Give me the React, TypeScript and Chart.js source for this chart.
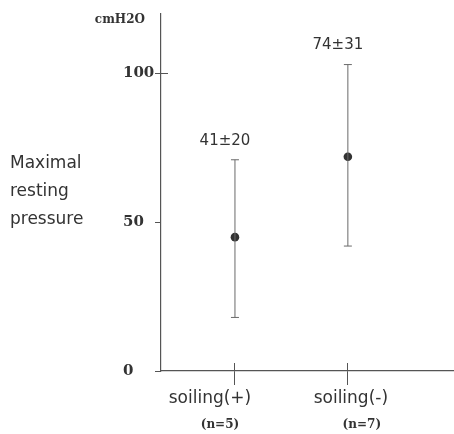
import React, { useEffect, useRef } from "react";
import { Chart, registerables } from "chart.js";

Chart.register(...registerables);

const categories = ["soiling(+)", "soiling(-)"];
const groupSizes = ["(n=5)", "(n=7)"];
const categoryX = [1, 2];
const means = [45, 72];
const upper = [71, 103];
const lower = [18, 42];
const annotations = ["41\u00b120", "74\u00b131"];
const yTicks = [0, 50, 100];
const yUnit = "cmH2O";
const yTitle = ["Maximal", "resting", "pressure"];

const TEXT = "#333";
const AXIS = "#555";
const BAR = "#6a6a6a";

const align = (p: number) => Math.round(p - 0.5) + 0.5;

const textPlugin = {
  id: "customText",
  afterDraw(chart: any) {
    const ctx = chart.ctx;
    const xs = chart.scales.x;
    const ys = chart.scales.y;
    const area = chart.chartArea;
    ctx.save();
    // inner tick extensions
    ctx.strokeStyle = AXIS;
    ctx.lineWidth = 1;
    categoryX.forEach((v) => {
      const px = align(xs.getPixelForValue(v));
      ctx.beginPath();
      ctx.moveTo(px, area.bottom - 8);
      ctx.lineTo(px, area.bottom);
      ctx.stroke();
    });
    const p100 = align(ys.getPixelForValue(yTicks[yTicks.length - 1]));
    ctx.beginPath();
    ctx.moveTo(area.left, p100);
    ctx.lineTo(area.left + 7, p100);
    ctx.stroke();

    ctx.fillStyle = TEXT;
    // unit
    ctx.font = "bold 12px 'DejaVu Serif'";
    ctx.textAlign = "right";
    ctx.textBaseline = "alphabetic";
    ctx.fillText(yUnit, 145, 23);
    // y title
    ctx.font = "17px 'DejaVu Sans'";
    ctx.textAlign = "left";
    yTitle.forEach((t, i) => ctx.fillText(t, 10, 168 + i * 28));
    // category labels
    const catOffsets = [-25, 3];
    const nOffsets = [-15, 14];
    categories.forEach((c, i) => {
      const px = xs.getPixelForValue(categoryX[i]);
      ctx.font = "17px 'DejaVu Sans'";
      ctx.textAlign = "center";
      ctx.fillText(c, px + catOffsets[i], 403);
      ctx.font = "bold 12px 'DejaVu Serif'";
      ctx.fillText(groupSizes[i], px + nOffsets[i], 428);
    });
    // annotations
    ctx.font = "15px 'DejaVu Sans'";
    ctx.textAlign = "center";
    ctx.textBaseline = "middle";
    annotations.forEach((a, i) => {
      const px = xs.getPixelForValue(categoryX[i]);
      const py = ys.getPixelForValue(upper[i]);
      ctx.fillText(a, px - 10, py - 19);
    });
    ctx.restore();
  },
};

export default function App() {
  const ref = useRef<HTMLCanvasElement | null>(null);
  useEffect(() => {
    document.body.style.margin = "0";
    const datasets: any[] = categories.map((c, i) => ({
      type: "line",
      label: c + " range",
      data: [
        { x: categoryX[i], y: lower[i] },
        { x: categoryX[i], y: upper[i] },
      ],
      borderColor: BAR,
      borderWidth: 1,
      pointStyle: "line",
      pointRadius: 4,
      pointBorderWidth: 1,
      pointBorderColor: BAR,
      showLine: true,
    }));
    datasets.push({
      type: "scatter",
      label: "mean",
      data: categoryX.map((x, i) => ({ x, y: means[i] })),
      pointRadius: 4.3,
      pointBackgroundColor: "#333",
      pointBorderColor: "#333",
      pointBorderWidth: 0,
    });
    const chart = new Chart(ref.current as HTMLCanvasElement, {
      type: "scatter",
      data: { datasets },
      options: {
        animation: false,
        responsive: false,
        events: [],
        layout: { autoPadding: false, padding: { left: 123, top: 14, right: 0, bottom: 0 } },
        plugins: { legend: { display: false }, tooltip: { enabled: false } },
        scales: {
          x: {
            type: "linear",
            min: 0.345,
            max: 2.94,
            afterBuildTicks: (s: any) => {
              s.ticks = categoryX.map((v) => ({ value: v }));
            },
            afterFit: (s: any) => {
              s.height = 63;
            },
            ticks: { display: false },
            grid: {
              display: true,
              drawOnChartArea: false,
              drawTicks: true,
              tickLength: 14,
              color: AXIS,
              lineWidth: 1,
            },
            border: { display: true, color: AXIS, width: 1.2 },
          },
          y: {
            type: "linear",
            min: 0,
            max: 120,
            afterBuildTicks: (s: any) => {
              s.ticks = yTicks.map((v) => ({ value: v }));
            },
            afterFit: (s: any) => {
              s.width = 38;
            },
            ticks: {
              crossAlign: "far",
              color: TEXT,
              font: { family: "'DejaVu Serif'", size: 15, weight: "bold" },
              callback: (v: any) => String(v),
            },
            grid: {
              display: true,
              drawOnChartArea: false,
              drawTicks: true,
              tickLength: 6,
              color: AXIS,
              lineWidth: 1,
            },
            border: { display: true, color: AXIS, width: 1.2 },
          },
        },
      },
      plugins: [textPlugin],
    } as any);
    return () => chart.destroy();
  }, []);
  return <canvas ref={ref} width={454} height={434} style={{ display: "block" }} />;
}
